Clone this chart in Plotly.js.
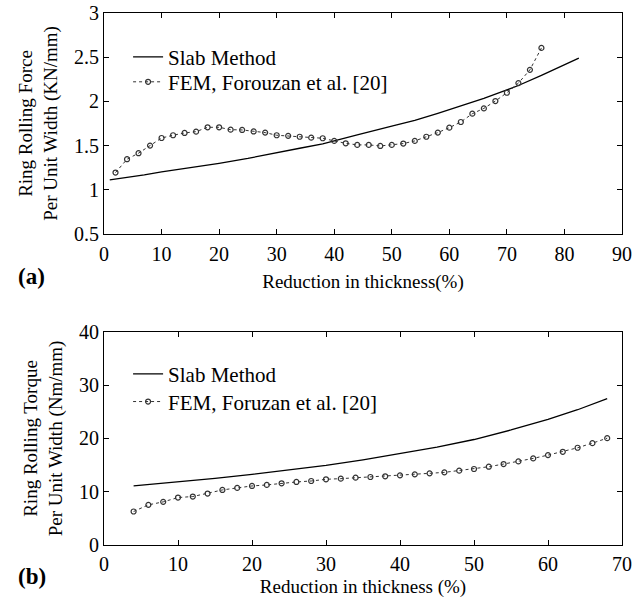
<!DOCTYPE html>
<html>
<head>
<meta charset="utf-8">
<script src="https://cdn.plot.ly/plotly-3.0.1.min.js"></script>
<style>
  html, body { margin: 0; padding: 0; background: #fff; }
  #chart { width: 644px; height: 606px; }
</style>
</head>
<body>
<div id="chart"></div>
<script>
// (a) Rolling force per unit width vs. reduction in thickness
const forceSlabX = [1, 4, 7, 10, 14, 20, 25, 30, 34, 38, 40, 44, 50, 54, 58, 62, 66, 70, 72, 76, 80, 82.5];
const forceSlabY = [1.113, 1.14, 1.17, 1.203, 1.24, 1.30, 1.355, 1.415, 1.47, 1.52, 1.555, 1.62, 1.72, 1.785, 1.865, 1.95, 2.035, 2.13, 2.18, 2.295, 2.41, 2.49];
const forceFemX = [2, 4, 6, 8, 10, 12, 14, 16, 18, 20, 22, 24, 26, 28, 30, 32, 34, 36, 38, 40,
                   42, 44, 46, 48, 50, 52, 54, 56, 58, 60, 62, 64, 66, 68, 70, 72, 74, 76];
const forceFemY = [1.195, 1.346, 1.414, 1.50, 1.586, 1.617, 1.643, 1.658, 1.707, 1.707, 1.68, 1.677, 1.66, 1.647, 1.617, 1.61, 1.60, 1.59, 1.583, 1.553,
                   1.526, 1.508, 1.508, 1.496, 1.508, 1.523, 1.553, 1.60, 1.647, 1.703, 1.767, 1.861, 1.921, 2.004, 2.098, 2.207, 2.357, 2.605];

// (b) Rolling torque per unit width vs. reduction in thickness
const torqueSlabX = [4, 10, 15, 20, 25, 30, 35, 40, 45, 50, 55, 60, 64, 68];
const torqueSlabY = [11.1, 11.8, 12.5, 13.27, 14.05, 14.95, 16.0, 17.13, 18.4, 19.81, 21.6, 23.6, 25.4, 27.5];
const torqueFemX = [4, 6, 8, 10, 12, 14, 16, 18, 20, 22, 24, 26, 28, 30, 32, 34, 36,
                    38, 40, 42, 44, 46, 48, 50, 52, 54, 56, 58, 60, 62, 64, 66, 68];
const torqueFemY = [6.29, 7.54, 8.1, 8.91, 9.1, 9.66, 10.34, 10.72, 11.09, 11.28, 11.59, 11.84, 12.02, 12.34, 12.46, 12.65, 12.77,
                    12.9, 13.08, 13.27, 13.46, 13.64, 13.96, 14.27, 14.7, 15.2, 15.7, 16.26, 16.88, 17.5, 18.26, 19.13, 20.06];

const forceTicks = [0.5, 1, 1.5, 2, 2.5, 3];
const forceXTicks = [0, 10, 20, 30, 40, 50, 60, 70, 80, 90];
const torqueTicks = [0, 10, 20, 30, 40];
const torqueXTicks = [0, 10, 20, 30, 40, 50, 60, 70];

const serif = 'Liberation Serif, DejaVu Serif, Noto Serif, serif';
const ink = '#000';

const slabLine = { color: '#000', width: 1.3 };
const femLine = { color: '#333', width: 1, dash: 'dot' };
const femMarker = { symbol: 'circle-open', size: 5, color: '#333', line: { width: 1.2, color: '#333' } };

// each series gets its own legend box so the entries can sit close together
const traces = [
  { x: forceSlabX, y: forceSlabY, xaxis: 'x', yaxis: 'y', mode: 'lines', name: 'Slab Method',
    line: slabLine, legend: 'legend' },
  { x: forceFemX, y: forceFemY, xaxis: 'x', yaxis: 'y', mode: 'lines+markers', name: 'FEM, Forouzan et al. [20]',
    line: femLine, marker: femMarker, legend: 'legend2' },
  { x: torqueSlabX, y: torqueSlabY, xaxis: 'x2', yaxis: 'y2', mode: 'lines', name: 'Slab Method',
    line: slabLine, legend: 'legend3' },
  { x: torqueFemX, y: torqueFemY, xaxis: 'x2', yaxis: 'y2', mode: 'lines+markers', name: 'FEM, Foruzan et al. [20]',
    line: femLine, marker: femMarker, legend: 'legend4' }
];

function font(size) {
  return { family: serif, size: size, color: ink, weight: 400 };
}

function axis(extra) {
  return Object.assign({
    showgrid: false, zeroline: false, showline: true, mirror: 'allticks',
    linecolor: ink, linewidth: 1, ticks: 'inside', ticklen: 5, tickcolor: ink, tickwidth: 1,
    tickfont: font(20)
  }, extra);
}

function legendAt(x, y) {
  return {
    x: x, y: y, xanchor: 'left', yanchor: 'middle',
    bgcolor: 'rgba(0,0,0,0)', borderwidth: 0, font: font(21),
    tracegroupgap: 0, itemwidth: 30
  };
}

const layout = {
  width: 644, height: 606,
  font: font(18),
  margin: { l: 104, r: 22, t: 13, b: 61 },
  paper_bgcolor: '#fff', plot_bgcolor: '#fff',
  showlegend: true,
  xaxis: axis({
    domain: [0, 1], anchor: 'y', range: [0, 90], tickvals: forceXTicks, ticklabelstandoff: 2,
    title: { text: 'Reduction in thickness(%)', font: font(19), standoff: 10 }
  }),
  yaxis: axis({
    domain: [0.5846, 1], anchor: 'x', range: [0.5, 3], tickvals: forceTicks,
    title: { text: 'Ring Rolling Force<br>Per Unit Width (KN/mm)', font: font(19), standoff: 11 }
  }),
  xaxis2: axis({
    domain: [0, 1], anchor: 'y2', range: [0, 70], tickvals: torqueXTicks, ticklabelstandoff: 1,
    title: { text: 'Reduction in thickness (%)', font: font(19), standoff: 5 }
  }),
  yaxis2: axis({
    domain: [0, 0.4004], anchor: 'x2', range: [0, 40], tickvals: torqueTicks,
    title: { text: 'Ring Rolling Torque<br>Per Unit Width (Nm/mm)', font: font(19), standoff: 11 }
  }),
  legend: legendAt(0.0465, 0.917),
  legend2: legendAt(0.0465, 0.870),
  legend3: legendAt(0.0465, 0.321),
  legend4: legendAt(0.0465, 0.269),
  annotations: [
    { text: '<b>(a)</b>', xref: 'paper', yref: 'paper', x: -0.17, y: 0.505, xanchor: 'left', yanchor: 'middle',
      showarrow: false, font: font(23) },
    { text: '<b>(b)</b>', xref: 'paper', yref: 'paper', x: -0.17, y: -0.06, xanchor: 'left', yanchor: 'middle',
      showarrow: false, font: font(23) }
  ]
};

Plotly.newPlot('chart', traces, layout, { displayModeBar: false, staticPlot: true });
</script>
</body>
</html>
